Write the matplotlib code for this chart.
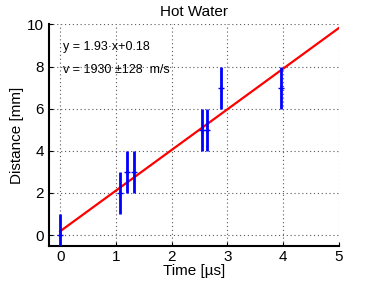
import numpy as np
import matplotlib
matplotlib.use("Agg")
import matplotlib.pyplot as plt

plt.rcParams["font.family"] = ["Liberation Sans", "DejaVu Sans"]

# measured points (time in us, distance in mm)
t = [0.0, 1.08, 1.20, 1.32, 2.55, 2.63, 2.88, 3.96]
d = [0, 2, 3, 3, 5, 5, 7, 7]
d_err = [1, 1, 1, 1, 1, 1, 1, 1]

# linear fit
slope = 1.93
intercept = 0.18
fit_x = [0, 5]

fig = plt.figure(figsize=(3.74, 2.81), dpi=100)
ax = fig.add_axes([0.131, 0.126, 0.775, 0.787])

ax.errorbar(t, d, yerr=d_err, fmt="+", color="blue", ecolor="blue",
            elinewidth=2, markersize=5, capsize=0, zorder=3)
fx = np.array(fit_x, dtype=float)
ax.plot(fx, slope * fx + intercept, color="red", linewidth=1.6, zorder=2)

ax.set_xlim(-0.2, 5)
ax.set_ylim(-0.5, 10)
ax.set_xticks([0, 1, 2, 3, 4, 5])
ax.set_yticks([0, 2, 4, 6, 8, 10])
ax.grid(True, linestyle=(0, (1, 2.5)), color="0.35", linewidth=0.8)
ax.spines["top"].set_visible(False)
ax.spines["right"].set_visible(False)
ax.spines["left"].set_linewidth(1.5)
ax.spines["bottom"].set_linewidth(1.5)
ax.tick_params(direction="in", labelsize=11, length=3)

ax.set_title("Hot Water", fontsize=11, pad=6)
ax.set_xlabel("Time [\u00b5s]", fontsize=11, labelpad=0)
ax.set_ylabel("Distance [mm]", fontsize=11, labelpad=2)

ax.text(0.05, 8.95, "y = 1.93\u00b7x+0.18", fontsize=9, va="center")
ax.text(0.05, 7.85, "v = 1930 \u00b1128  m/s", fontsize=9, va="center")

fig.savefig("out.png", dpi=100)
